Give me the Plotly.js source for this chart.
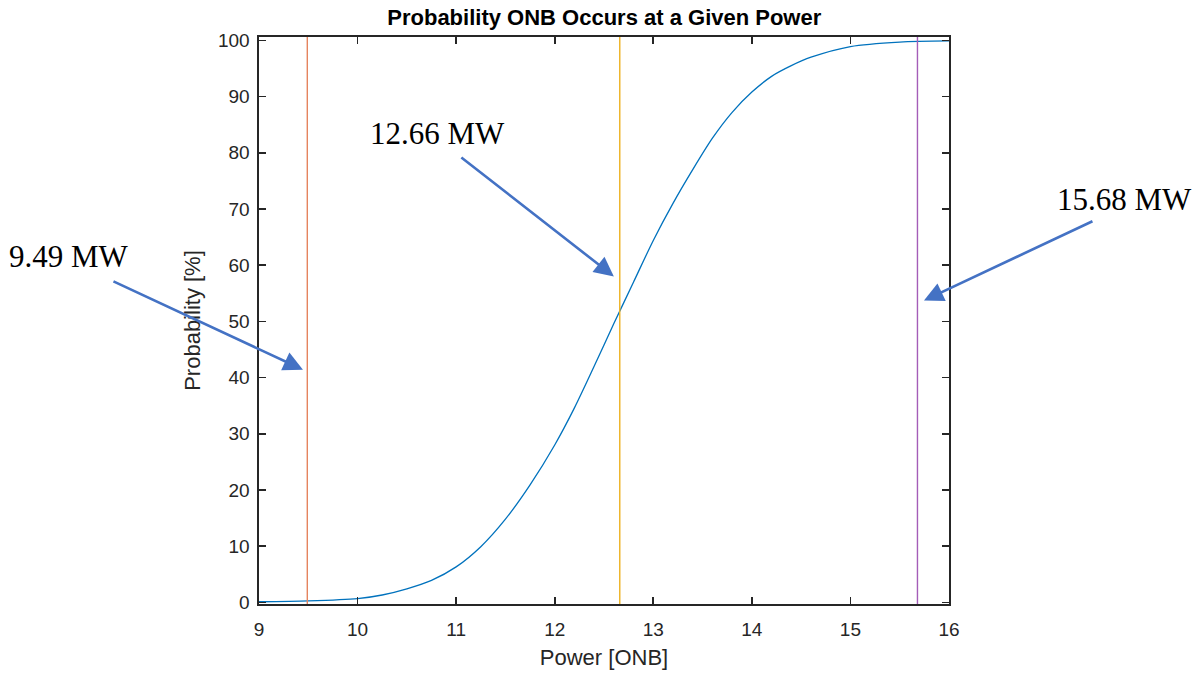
<!DOCTYPE html>
<html>
<head>
<meta charset="utf-8">
<script src="https://cdn.plot.ly/plotly-3.0.1.min.js"></script>
<style>html,body{margin:0;padding:0;background:#fff;}#chart{width:1199px;height:675px;}</style>
</head>
<body>
<div id="chart"></div>
<script>
// Probability curve
const power = [9.0, 9.5, 10.0, 10.25, 10.5, 10.75, 11.0, 11.25, 11.5, 11.75, 12.0, 12.2, 12.4, 12.6, 12.8, 13.0, 13.2, 13.4, 13.6, 13.8, 14.0, 14.2, 14.4, 14.6, 15.0, 15.5, 16.0];
const probability = [0.1, 0.25, 0.66, 1.3, 2.4, 3.9, 6.3, 9.9, 14.8, 20.9, 28.0, 34.6, 42.0, 49.6, 57.0, 64.4, 71.0, 77.0, 82.6, 87.2, 90.8, 93.6, 95.5, 97.0, 98.9, 99.7, 99.9];

// Marker lines
const markerPower = [9.49, 12.66, 15.68];
const markerColors = ['#E5845F', '#EDB120', '#A45DB8'];
const markerLabels = ['9.49 MW', '12.66 MW', '15.68 MW'];

const xTicks = [9, 10, 11, 12, 13, 14, 15, 16];
const yTicks = [0, 10, 20, 30, 40, 50, 60, 70, 80, 90, 100];

const yRange = [-0.3, 100.6];

const traces = [{
  x: power, y: probability, type: 'scatter', mode: 'lines',
  line: {color: '#0072BD', width: 1.3, shape: 'spline', smoothing: 0.8},
  hoverinfo: 'skip'
}];
markerPower.forEach((p, i) => {
  traces.push({
    x: [p, p], y: yRange, type: 'scatter', mode: 'lines',
    line: {color: markerColors[i], width: 1.4}, hoverinfo: 'skip'
  });
});

const arrowColor = '#4472C4';
const textFont = {family: 'Liberation Serif, Times New Roman, serif', size: 31, color: '#000'};
const arrowStyle = {text: '', showarrow: true, arrowhead: 2, arrowsize: 1.5, arrowwidth: 2.6, arrowcolor: arrowColor, xref: 'x', yref: 'y'};
const labelStyle = {xref: 'paper', yref: 'paper', xanchor: 'center', yanchor: 'middle', showarrow: false, font: textFont};

const annotations = [
  // labels (placed in paper space, outside the plot box where needed)
  Object.assign({x: -0.275, y: 0.612, text: markerLabels[0]}, labelStyle),
  Object.assign({x: 0.259, y: 0.830, text: markerLabels[1]}, labelStyle),
  Object.assign({x: 1.254, y: 0.714, text: markerLabels[2]}, labelStyle),
  // arrows
  Object.assign({x: 9.446, y: 41.4, ax: -191, ay: -89}, arrowStyle),
  Object.assign({x: 12.60, y: 58.0, ax: -154, ay: -120}, arrowStyle),
  Object.assign({x: 15.746, y: 53.7, ax: 170, ay: -80}, arrowStyle)
];

const tickFont = {family: 'Liberation Sans, Arial, sans-serif', size: 19, color: '#262626'};
const labelFont = {family: 'Liberation Sans, Arial, sans-serif', size: 22, color: '#262626'};
const axisCommon = {
  showgrid: false, zeroline: false, showline: true, mirror: 'ticks',
  linecolor: '#262626', linewidth: 1.6, ticks: 'inside', ticklen: 7, tickwidth: 1.6,
  tickcolor: '#262626', tickfont: tickFont
};

const layout = {
  width: 1199, height: 675,
  margin: {l: 259, r: 250, t: 37, b: 71, pad: 0},
  paper_bgcolor: '#fff', plot_bgcolor: '#fff',
  showlegend: false,
  title: {text: '<b>Probability ONB Occurs at a Given Power</b>', x: 0.504, xanchor: 'center', y: 0.975, yanchor: 'middle',
          font: {family: 'Liberation Sans, Arial, sans-serif', size: 22, color: '#000'}},
  xaxis: Object.assign({}, axisCommon, {
    range: [9, 16], tickvals: xTicks, ticktext: xTicks.map(String), ticklabelstandoff: 8,
    title: {text: 'Power [ONB]', standoff: 10, font: labelFont}
  }),
  yaxis: Object.assign({}, axisCommon, {
    range: yRange, tickvals: yTicks, ticktext: yTicks.map(String), ticklabelstandoff: 4,
    title: {text: 'Probability [%]', standoff: 11, font: labelFont}
  }),
  annotations: annotations
};

Plotly.newPlot('chart', traces, layout, {displayModeBar: false, staticPlot: true});
</script>
</body>
</html>
